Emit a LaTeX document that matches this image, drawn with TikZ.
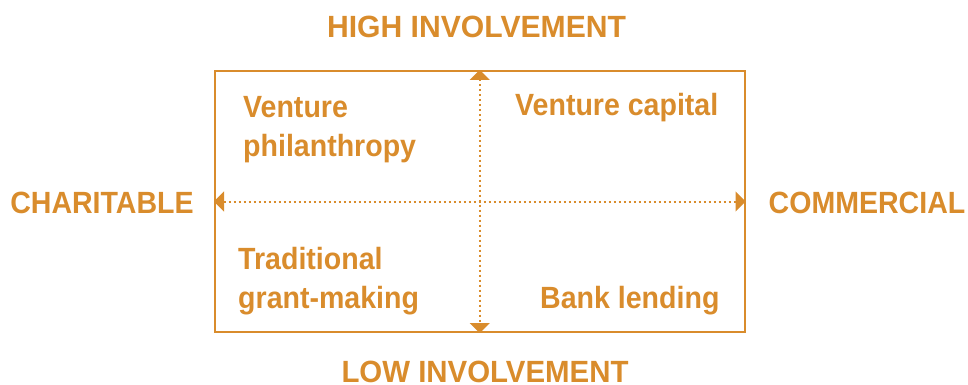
\documentclass[tikz,border=0pt]{standalone}
\usepackage{fontspec}
\setmainfont[FakeStretch=0.93]{Liberation Sans}
\usetikzlibrary{arrows.meta}
\definecolor{ochre}{HTML}{D98C2C}
\tikzset{
  lbl/.style={text=ochre, inner sep=0pt, font=\fontsize{30.7}{39}\selectfont\bfseries},
  quad/.style={lbl, align=left},
  frame/.style={draw=ochre, line width=2pt, minimum width=529.5pt, minimum height=261pt, inner sep=0pt},
  axis/.style={draw=ochre, line width=2pt, dash pattern=on 2pt off 3pt,
    {Triangle[length=10pt,width=20pt]}-{Triangle[length=10pt,width=20pt]}}
}
\begin{document}
\begin{tikzpicture}[x=1pt,y=-1pt]
\useasboundingbox (0,0) rectangle (968,385);
\node[frame] (box) at (479.75,201.5) {};
\draw[axis] (box.north) -- (box.south);
\draw[axis] (box.west) -- (box.east);
\node[lbl, anchor=base] (high) at (476.5,38) {\scalebox{1.055}[1]{HIGH INVOLVEMENT}};
\node[lbl, anchor=base] (low) at (485,382.5) {\scalebox{1.03}[1]{LOW INVOLVEMENT}};
\node[lbl, anchor=base] (char) at (102,213) {CHARITABLE};
\node[lbl, anchor=base] (comm) at (867,213) {COMMERCIAL};
\node[quad, anchor=north west] (vp) at (243,96) {Venture\\philanthropy};
\node[lbl, anchor=base west] (vc) at (515,116) {Venture capital};
\node[quad, anchor=north west] (tg) at (238,247) {Traditional\\grant-making};
\node[lbl, anchor=base west] (bl) at (540,308) {Bank lending};
\end{tikzpicture}
\end{document}
